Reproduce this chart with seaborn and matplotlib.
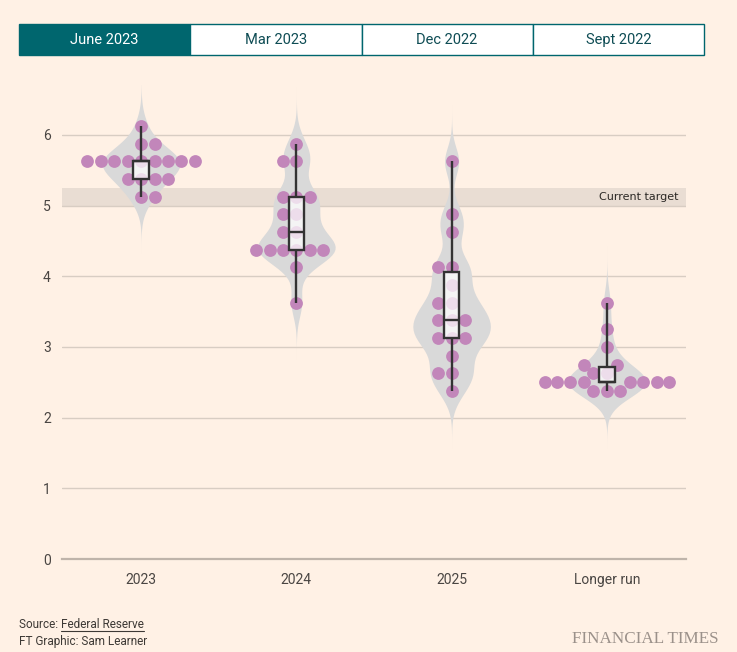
import numpy as np
import pandas as pd
import matplotlib.pyplot as plt
import seaborn as sns
from matplotlib.patches import Rectangle
from matplotlib.lines import Line2D

# Fed dot plot, June 2023 projections (one dot per participant)
years = ['2023', '2024', '2025', 'Longer run']
dots_2023 = [5.125, 5.125, 5.375, 5.375, 5.375, 5.375,
             5.625, 5.625, 5.625, 5.625, 5.625, 5.625, 5.625, 5.625, 5.625,
             5.875, 5.875, 6.125]
dots_2024 = [3.625, 4.125, 4.375, 4.375, 4.375, 4.375, 4.375, 4.375,
             4.625, 4.625, 4.875, 4.875, 5.125, 5.125, 5.125,
             5.625, 5.625, 5.875]
dots_2025 = [2.375, 2.625, 2.625, 2.875, 3.125, 3.125, 3.125,
             3.375, 3.375, 3.375, 3.625, 3.625, 3.875, 4.125, 4.125,
             4.625, 4.875, 5.625]
dots_longer = [2.375, 2.375, 2.375, 2.5, 2.5, 2.5, 2.5, 2.5, 2.5, 2.5, 2.5,
               2.625, 2.625, 2.75, 2.75, 3.0, 3.25, 3.625]
target_low, target_high = 5.0, 5.25
tabs = ['June 2023', 'Mar 2023', 'Dec 2022', 'Sept 2022']

df = pd.DataFrame({
    'year': ['2023'] * len(dots_2023) + ['2024'] * len(dots_2024)
            + ['2025'] * len(dots_2025) + ['Longer run'] * len(dots_longer),
    'rate': dots_2023 + dots_2024 + dots_2025 + dots_longer,
})

BG = '#fff1e5'
GRID = '#d8cdc3'
TEXT = '#3d3935'
TEAL = '#00666e'

sns.set_style('white')
plt.rcParams['font.family'] = ['Roboto', 'DejaVu Sans']


def fixed_bw(kde):
    # same kernel bandwidth (in rate units) for every violin
    return 0.2 / kde.dataset.std(ddof=1)


fig = plt.figure(figsize=(7.37, 6.52), dpi=100, facecolor=BG)
ax = fig.add_axes([0.0841, 0.1426, 0.8467, 0.7263])
ax.set_facecolor(BG)

ax.axhspan(target_low, target_high, color='#e9ddd3', zorder=0.5, lw=0)

sns.violinplot(data=df, x='year', y='rate', order=years, color='#d9d9d9',
               saturation=1, inner=None, linewidth=0, density_norm='width',
               width=0.5, cut=4, bw_method=fixed_bw, ax=ax)
sns.swarmplot(data=df, x='year', y='rate', order=years, color='#c286ba',
              size=9.2, linewidth=0, zorder=3, ax=ax)
sns.boxplot(data=df, x='year', y='rate', order=years, width=0.1,
            whis=(0, 100), showcaps=False, showfliers=False,
            linecolor='#333333', linewidth=1.7,
            boxprops=dict(facecolor=(1, 1, 1, 0.72), zorder=4),
            whiskerprops=dict(zorder=4), medianprops=dict(zorder=5), ax=ax)

ax.set_xlim(-0.51, 3.51)
ax.set_ylim(0, 6.7)
ax.set_yticks(range(0, 7))
ax.set_xlabel('')
ax.set_ylabel('')
ax.set_axisbelow(True)
ax.yaxis.grid(True, color=GRID, linewidth=1)
for s in ['top', 'right', 'left']:
    ax.spines[s].set_visible(False)
ax.spines['bottom'].set_color('#bfb4aa')
ax.spines['bottom'].set_linewidth(1.6)
ax.tick_params(axis='y', length=0, pad=8, labelsize=10, labelcolor='#4a4643')
ax.tick_params(axis='x', length=5, width=1, color='#c9bdb2', pad=5,
               labelsize=10, labelcolor='#4a4643')

ax.text(3.46, (target_low + target_high) / 2, 'Current target', ha='right',
        va='center', fontsize=8, color='#2b2825', family='DejaVu Sans',
        zorder=6)

# selector tabs
tab_w = 685 / 4 / 737
for i, t in enumerate(tabs):
    x0 = 19 / 737 + i * tab_w
    fig.patches.append(Rectangle((x0, 0.9156), tab_w, 0.0475,
                                 transform=fig.transFigure,
                                 facecolor=TEAL if i == 0 else 'white',
                                 edgecolor=TEAL, linewidth=1))
    fig.text(x0 + tab_w / 2, 1 - 40 / 652, t, ha='center', va='center',
             fontsize=10.5, color='white' if i == 0 else '#0e4c54')

# footer
src = fig.text(19 / 737, 1 - 625 / 652, 'Source: ', ha='left', va='center',
               fontsize=8.5, color=TEXT)
fig.text(19 / 737, 1 - 641 / 652, 'FT Graphic: Sam Learner', ha='left',
         va='center', fontsize=8.5, color=TEXT)
fig.text(719 / 737, 1 - 639 / 652, 'FINANCIAL TIMES', ha='right',
         va='center', fontsize=12.3, color='#9b918a', family='Liberation Serif')

fig.canvas.draw()
r = fig.canvas.get_renderer()
bb = src.get_window_extent(r)
fr = fig.text(bb.x1 / 737, 1 - 625 / 652, 'Federal Reserve', ha='left',
              va='center', fontsize=8.5, color=TEXT)
bb2 = fr.get_window_extent(r)
uy = (bb2.y0 + 1) / 652
fig.lines.append(Line2D([bb2.x0 / 737, bb2.x1 / 737], [uy, uy],
                        transform=fig.transFigure, color=TEXT, linewidth=0.8))

fig.savefig('out.png', dpi=100, facecolor=BG)
